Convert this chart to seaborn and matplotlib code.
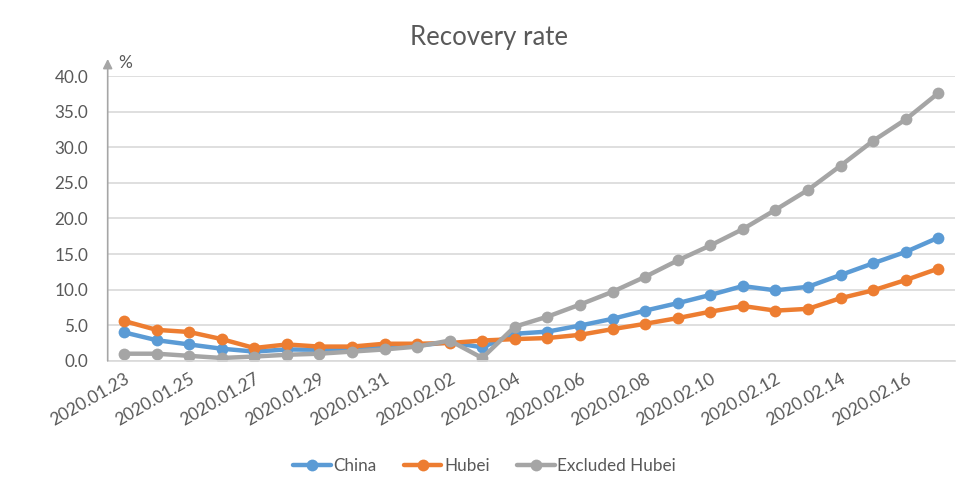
import pandas as pd
import matplotlib.pyplot as plt
import seaborn as sns

# dates 2020.01.23 - 2020.02.17
dates = list(pd.date_range("2020-01-23", "2020-02-17").strftime("%Y.%m.%d"))

china = [4.0, 2.9, 2.3, 1.7, 1.3, 1.6, 1.55, 1.7, 1.9, 2.15, 2.6, 1.9, 3.8,
         4.1, 4.95, 5.9, 7.05, 8.1, 9.25, 10.5, 9.9, 10.4, 12.05, 13.7, 15.3, 17.3]
hubei = [5.6, 4.35, 4.05, 3.05, 1.8, 2.3, 2.0, 2.0, 2.4, 2.4, 2.5, 2.85, 3.05,
         3.2, 3.65, 4.45, 5.2, 6.0, 6.9, 7.7, 7.05, 7.3, 8.8, 9.9, 11.35, 12.95]
excl_hubei = [1.0, 1.0, 0.7, 0.4, 0.6, 0.85, 1.0, 1.3, 1.6, 2.0, 2.85, 0.4, 4.8,
              6.2, 7.9, 9.7, 11.8, 14.1, 16.2, 18.5, 21.2, 24.0, 27.4, 30.9, 33.9, 37.6]

series_names = ["China", "Hubei", "Excluded Hubei"]
colors = ["#5B9BD5", "#ED7D31", "#A5A5A5"]

df = pd.DataFrame({"date": dates, "China": china, "Hubei": hubei,
                   "Excluded Hubei": excl_hubei})
long_df = df.melt(id_vars="date", var_name="series", value_name="rate")
long_df["idx"] = long_df["date"].map({d: i for i, d in enumerate(dates)})

sns.set_style("white")
plt.rcParams["font.family"] = ["Lato", "DejaVu Sans"]
text_col = "#595959"

fig = plt.figure(figsize=(9.79, 4.97), dpi=100)
ax = fig.add_axes([0.110, 0.274, 0.865, 0.573])

sns.lineplot(data=long_df, x="idx", y="rate", hue="series", hue_order=series_names,
             palette=colors, marker="o", markersize=8.5, markeredgewidth=0,
             linewidth=3.2, ax=ax, legend=True)

ax.set_xlim(-0.5, len(dates) - 0.5)
ax.set_ylim(0, 40)
ax.set_yticks(range(0, 41, 5))
ax.set_yticklabels([f"{v:.1f}" for v in range(0, 41, 5)], fontsize=12.3, color=text_col)
ax.set_xticks(range(0, len(dates), 2))
ax.set_xticklabels(dates[::2], rotation=30, ha="right", rotation_mode="anchor",
                   fontsize=12.5, color=text_col)
ax.tick_params(axis="y", length=0, pad=14)
ax.tick_params(axis="x", length=0, pad=7)
ax.set_xlabel("")
ax.set_ylabel("")
ax.yaxis.grid(True, color="#D9D9D9", linewidth=1.2)
ax.set_axisbelow(True)

for s in ["top", "right", "left"]:
    ax.spines[s].set_visible(False)
ax.spines["bottom"].set_color("#D9D9D9")
ax.spines["bottom"].set_linewidth(1.2)

# y axis drawn as an arrow going above the top
ax.annotate("", xy=(0, 1.06), xytext=(0, 0), xycoords="axes fraction",
            arrowprops=dict(arrowstyle="-|>", color="#A6A6A6", lw=1.2,
                            mutation_scale=14, shrinkA=0, shrinkB=0),
            annotation_clip=False)
ax.text(0.012, 1.045, "%", transform=ax.transAxes, fontsize=12.5, color=text_col,
        va="center", ha="left")

fig.text(0.5, 0.925, "Recovery rate", ha="center", va="center", fontsize=18.5,
         color=text_col)

handles, labels = ax.get_legend_handles_labels()
ax.legend(handles, labels, loc="center", bbox_to_anchor=(0.445, -0.37), ncol=3,
          frameon=False, fontsize=12.3, labelcolor=text_col, handlelength=2.2,
          handletextpad=0.15, columnspacing=1.6)

fig.savefig("out.png", dpi=100)
